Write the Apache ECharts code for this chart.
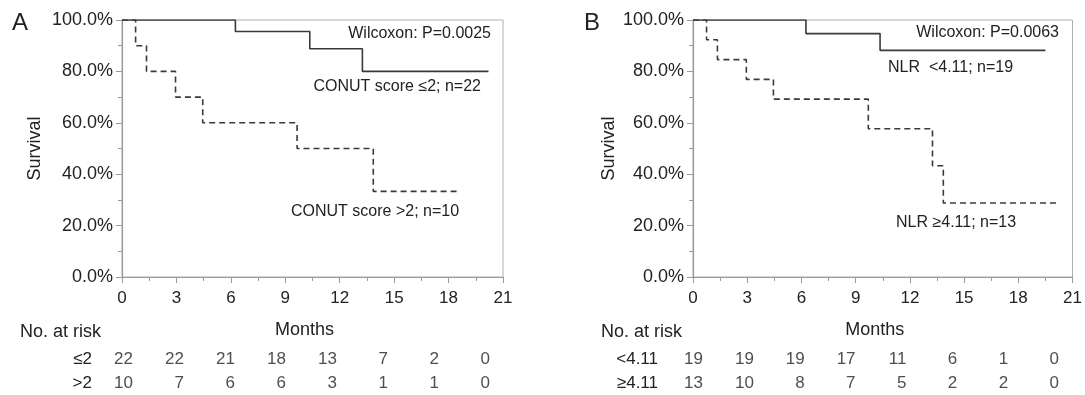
<!DOCTYPE html>
<html>
<head>
<meta charset="utf-8">
<script src="https://cdn.jsdelivr.net/npm/echarts@6/dist/echarts.min.js"></script>
<style>
  html, body { margin: 0; padding: 0; background: #fff; }
  #chart { width: 1085px; height: 395px; }
</style>
</head>
<body>
<div id="chart"></div>
<script>
// Kaplan-Meier step points (months, survival %)
const conutLowT = [0, 6.25, 10.35, 13.25, 20.2];
const conutLowS = [100, 95.5, 88.8, 80, 80];
const conutHighT = [0, 0.75, 1.35, 2.95, 4.45, 9.65, 13.85, 18.55];
const conutHighS = [100, 90, 80, 70, 60, 50, 33.3, 33.3];
const nlrLowT = [0, 6.25, 10.35, 19.5];
const nlrLowS = [100, 94.7, 88.2, 88.2];
const nlrHighT = [0, 0.75, 1.35, 2.95, 4.45, 9.7, 13.25, 13.85, 20.25];
const nlrHighS = [100, 92.3, 84.6, 76.9, 69.2, 57.7, 43.3, 28.8, 28.8];

// numbers at risk
const riskRowsA = ['≤2', '>2'];
const riskConutLow = [22, 22, 21, 18, 13, 7, 2, 0];
const riskConutHigh = [10, 7, 6, 6, 3, 1, 1, 0];
const riskRowsB = ['<4.11', '≥4.11'];
const riskNlrLow = [19, 19, 19, 17, 11, 6, 1, 0];
const riskNlrHigh = [13, 10, 8, 7, 5, 2, 2, 0];

const FONT = 'Liberation Sans';
const TXT = '#222';
const AX = '#9a9a9a';

function pts(t, s) { return t.map((x, i) => [x, s[i]]); }
function riskPts(row, vals) { return vals.map((v, i) => [i, row, v]); }

function xPlot(idx) {
  return {
    type: 'value', gridIndex: idx, min: 0, max: 21, interval: 3,
    name: 'Months', nameLocation: 'middle', nameGap: 44,
    nameTextStyle: { fontFamily: FONT, fontSize: 18, color: TXT, padding: [0, 16, 0, 0] },
    axisLine: { lineStyle: { color: AX, width: 1.2 } },
    axisTick: { length: 6, lineStyle: { color: AX } },
    minorTick: { show: true, splitNumber: 2, length: 4, lineStyle: { color: AX } },
    splitLine: { show: false },
    axisLabel: { fontFamily: FONT, fontSize: 17, color: TXT, margin: 13 }
  };
}
function yPlot(idx, gap) {
  return {
    type: 'value', gridIndex: idx, min: 0, max: 100, interval: 20,
    name: 'Survival', nameLocation: 'middle', nameGap: gap,
    nameTextStyle: { fontFamily: FONT, fontSize: 18, color: TXT },
    axisLine: { show: true, lineStyle: { color: AX, width: 1.2 } },
    axisTick: { show: true, length: 6, lineStyle: { color: AX } },
    minorTick: { show: true, splitNumber: 2, length: 4, lineStyle: { color: AX } },
    splitLine: { show: false },
    axisLabel: { fontFamily: FONT, fontSize: 18, color: TXT, margin: 9,
      formatter: v => v.toFixed(1) + '%' }
  };
}
function xRisk(idx) {
  return { type: 'value', gridIndex: idx, min: 0, max: 7, show: false };
}
function yRisk(idx, rows, margin) {
  return {
    type: 'category', gridIndex: idx, data: rows, inverse: true,
    axisLine: { show: false }, axisTick: { show: false },
    axisLabel: { fontFamily: FONT, fontSize: 17, color: TXT, margin: margin }
  };
}
function stepLine(idx, data, dashed) {
  return {
    type: 'line', xAxisIndex: idx, yAxisIndex: idx, data: data, step: 'end',
    showSymbol: false, silent: true,
    lineStyle: { color: '#3a3a3a', width: 1.6, type: dashed ? [6, 4] : 'solid' }
  };
}
function riskSeries(idx, data) {
  return {
    type: 'scatter', xAxisIndex: idx, yAxisIndex: idx, data: data, symbolSize: 0,
    label: { show: true, position: 'left', distance: 0, fontFamily: FONT, fontSize: 17,
      color: TXT, formatter: p => p.value[2] }
  };
}
function txt(x, y, s, size, align) {
  return { type: 'text', x: x, y: y,
    style: { text: s, fontFamily: FONT, fontSize: size, fill: TXT,
      align: align || 'left', verticalAlign: 'middle' } };
}

const chart = echarts.init(document.getElementById('chart'));
chart.setOption({
  animation: false,
  grid: [
    { left: 122, top: 20, width: 381, height: 257, show: true, borderColor: '#b0b0b0', borderWidth: 1 },
    { left: 693, top: 20, width: 384, height: 257, show: true, borderColor: '#b0b0b0', borderWidth: 1 },
    { left: 133, top: 348, width: 357, height: 50 },
    { left: 703, top: 348, width: 356, height: 50 }
  ],
  xAxis: [xPlot(0), xPlot(1), xRisk(2), xRisk(3)],
  yAxis: [yPlot(0, 78), yPlot(1, 75), yRisk(2, riskRowsA, 41), yRisk(3, riskRowsB, 45)],
  series: [
    stepLine(0, pts(conutLowT, conutLowS), false),
    stepLine(0, pts(conutHighT, conutHighS), true),
    stepLine(1, pts(nlrLowT, nlrLowS), false),
    stepLine(1, pts(nlrHighT, nlrHighS), true),
    riskSeries(2, riskPts(0, riskConutLow).concat(riskPts(1, riskConutHigh))),
    riskSeries(3, riskPts(0, riskNlrLow).concat(riskPts(1, riskNlrHigh)))
  ],
  graphic: [
    txt(12, 23, 'A', 24),
    txt(584, 23, 'B', 24),
    txt(491, 34, 'Wilcoxon: P=0.0025', 16, 'right'),
    txt(481, 87, 'CONUT score ≤2; n=22', 16, 'right'),
    txt(291, 212, 'CONUT score >2; n=10', 16),
    txt(1059, 33, 'Wilcoxon: P=0.0063', 16, 'right'),
    txt(888, 68, 'NLR  <4.11; n=19', 16),
    txt(896, 223, 'NLR ≥4.11; n=13', 16),
    txt(20, 332, 'No. at risk', 18),
    txt(601, 332, 'No. at risk', 18)
  ]
});
</script>
</body>
</html>
